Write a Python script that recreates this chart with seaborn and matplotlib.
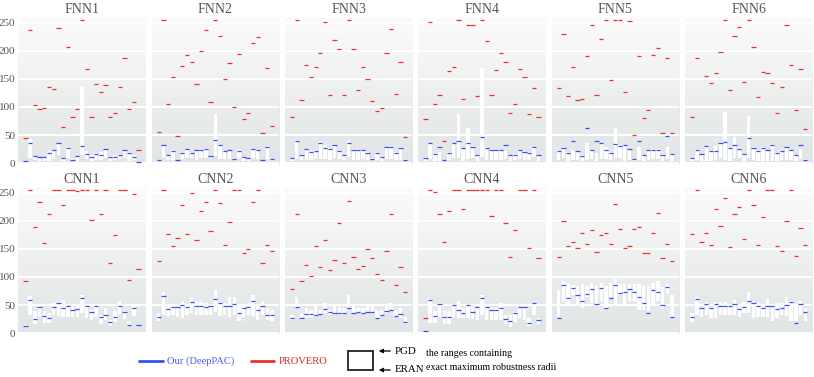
import numpy as np
import pandas as pd
import matplotlib
matplotlib.use("Agg")
import matplotlib.pyplot as plt
import seaborn as sns
from matplotlib.colors import LinearSegmentedColormap
from matplotlib.patches import Rectangle, FancyArrowPatch
from matplotlib.lines import Line2D

sns.set_style("white")
plt.rcParams["font.family"] = ["Liberation Serif", "DejaVu Serif"]

nan = np.nan

#%% data: per network, 25 cases
# PROVERO estimate, DeepPAC estimate, ERAN (lower) and PGD (upper) bounds
fnn1_provero = [45, 237, 104, 96, 99, 136, 132, 241, 64, 206, 82, 97, 255, 168, 82, 141, 126, 139, 82, 90, 136, 187, 96, 108, 23]
fnn1_deeppac = [4, 36, 12, 11, 11, 18, 24, 36, 9, 27, 5, 12, 30, 16, 11, 16, 14, 25, 11, 11, 14, 23, 18, 11, 2]
fnn1_eran = [0, 9, 5, 4, 4, 4, 8, 15, 3, 9, 3, 4, 14, 8, 3, 5, 5, 9, 4, 5, 8, 9, 4, 5, 0]
fnn1_pgd = [4, 43, 12, 11, 11, 21, 24, 36, 9, 28, 9, 12, 135, 21, 14, 18, 19, 26, 12, 15, 16, 24, 19, 14, 2]

fnn2_provero = [55, 255, 106, 154, 48, 173, 192, 181, 141, 200, 237, 109, 255, 226, 150, 179, 100, 195, 79, 90, 214, 225, 53, 170, 67]
fnn2_deeppac = [5, 32, 14, 21, 5, 18, 25, 18, 23, 24, 26, 12, 41, 32, 21, 23, 8, 21, 11, 9, 25, 23, 5, 29, 7]
fnn2_eran = [3, 10, 5, 5, 3, 8, 9, 10, 5, 9, 9, 9, 12, 8, 7, 8, 5, 9, 3, 3, 9, 8, 3, 8, 3]
fnn2_pgd = [5, 33, 14, 23, 5, 20, 26, 20, 24, 26, 27, 13, 87, 33, 22, 23, 10, 25, 11, 10, 26, 24, 6, 30, 8]

fnn3_provero = [82, 255, 112, 174, 153, 171, 196, 252, 121, 220, 203, 122, 255, 204, 131, 172, 149, 111, 93, 98, 196, 239, 124, 180, 46]
fnn3_deeppac = [9, 39, 15, 25, 20, 21, 36, 27, 25, 32, 21, 14, 35, 24, 24, 23, 18, 8, 18, 11, 28, 28, 18, 27, 5]
fnn3_eran = [3, 8, 5, 6, 5, 7, 8, 8, 5, 9, 8, 5, 11, 5, 5, 8, 5, 5, 5, 3, 8, 8, 5, 5, 3]
fnn3_pgd = [9, 41, 17, 26, 22, 23, 39, 32, 27, 33, 23, 15, 42, 26, 26, 24, 19, 10, 19, 12, 29, 30, 19, 29, 8]

fnn4_provero = [79, 252, 105, 121, 39, 164, 171, 255, 114, 246, 246, 120, 255, 218, 121, 166, 197, 180, 89, 106, 168, 154, 87, 134, 83]
fnn4_deeppac = [10, 35, 16, 29, 5, 18, 36, 39, 27, 36, 29, 14, 46, 27, 24, 23, 23, 33, 14, 15, 23, 20, 18, 29, 14]
fnn4_eran = [3, 8, 3, 3, 3, 5, 9, 9, 3, 8, 9, 3, 11, 5, 5, 5, 5, 8, 3, 5, 8, 5, 5, 11, 3]
fnn4_pgd = [11, 36, 18, 20, 5, 19, 36, 88, 27, 63, 30, 15, 170, 28, 26, 24, 24, 21, 15, 16, 24, 21, 20, 29, 15]

fnn5_provero = [134, 230, 120, 171, 112, 114, 190, 246, 121, 221, 255, 148, 255, 255, 127, 253, 50, 190, 80, 95, 193, 205, 54, 187, 54]
fnn5_deeppac = [21, 27, 18, 40, 21, 12, 62, 23, 39, 35, 23, 18, 34, 30, 32, 25, 7, 39, 14, 23, 24, 23, 14, 48, 16]
fnn5_eran = [5, 9, 3, 6, 5, 3, 5, 7, 3, 8, 8, 5, 10, 9, 3, 5, 3, 5, 3, 5, 7, 7, 3, 7, 3]
fnn5_pgd = [23, 28, 19, 24, 22, 14, 36, 24, 18, 36, 28, 19, 62, 33, 33, 26, 8, 29, 15, 24, 26, 25, 16, 29, 17]

fnn6_provero = [82, 187, nan, 156, 142, 161, 198, 255, 131, 227, 243, 145, 255, 206, 118, 162, 160, 143, 89, 136, 246, 174, 95, 168, 60]
fnn6_deeppac = [9, 24, 16, 30, 21, 21, 35, 37, 27, 32, 25, 16, 45, 27, 21, 27, 23, 33, 18, 21, 28, 23, 14, 33, 5]
fnn6_eran = [3, 5, 3, 3, 3, 5, 9, 5, 3, 9, 9, 3, 9, 5, 3, 3, 3, 3, 3, 5, 5, 5, 3, 8, 3]
fnn6_pgd = [10, 26, 17, 31, 23, 31, 36, 91, 28, 46, 27, 17, 84, 28, 23, 28, 24, 34, 19, 23, 29, 24, 15, 25, 7]

cnn1_provero = [92, 255, 189, 234, 160, 212, 255, 255, 228, 255, 255, 253, 255, 255, 201, 255, 212, 255, 124, 174, 255, 255, 95, 248, 114]
cnn1_deeppac = [12, 59, 25, 46, 30, 27, 46, 54, 45, 48, 41, 43, 62, 48, 37, 49, 29, 32, 20, 29, 49, 37, 15, 45, 15]
cnn1_eran = [11, 32, 16, 30, 18, 18, 32, 31, 28, 29, 29, 28, 36, 26, 24, 28, 17, 24, 12, 20, 34, 25, 12, 31, 12]
cnn1_pgd = [14, 66, 40, 48, 39, 36, 53, 56, 59, 50, 48, 52, 68, 49, 41, 52, 32, 44, 24, 39, 57, 39, 21, 52, 15]

cnn2_provero = [129, 255, 176, 155, 170, 228, 177, 250, 165, 217, 233, 181, 255, 232, 157, 197, 255, 255, 143, 150, 233, 255, 124, 157, 147]
cnn2_deeppac = [29, 66, 43, 46, 46, 50, 46, 55, 49, 49, 46, 48, 61, 54, 49, 49, 51, 35, 45, 46, 58, 42, 48, 33, 33]
cnn2_eran = [21, 33, 30, 32, 29, 27, 33, 35, 33, 32, 32, 32, 38, 31, 32, 29, 32, 22, 29, 32, 31, 24, 32, 23, 22]
cnn2_pgd = [36, 74, 50, 52, 52, 56, 48, 64, 57, 56, 54, 49, 77, 56, 54, 65, 64, 49, 52, 54, 67, 49, 55, 43, 42]

cnn3_provero = [79, 212, 93, 121, 101, 156, 117, 166, 113, 130, 196, 124, 236, 136, 114, 120, 149, 133, 106, 95, 147, 212, 86, 118, 73]
cnn3_deeppac = [27, 46, 26, 34, 34, 32, 34, 43, 37, 35, 36, 36, 44, 36, 37, 36, 38, 37, 27, 33, 40, 41, 30, 34, 20]
cnn3_eran = [24, 45, 24, 27, 29, 33, 33, 36, 33, 32, 33, 35, 46, 36, 35, 36, 37, 37, 27, 31, 35, 39, 30, 27, 16]
cnn3_pgd = [32, 64, 36, 45, 42, 52, 42, 54, 42, 48, 47, 45, 68, 52, 45, 45, 52, 48, 40, 41, 49, 54, 41, 44, 29]

cnn4_provero = [27, 255, 251, 212, 162, 218, 255, 255, 221, 255, 255, 255, 255, 255, 209, 255, 255, 196, 136, 183, 255, 255, 152, 255, 133]
cnn4_deeppac = [4, 59, 30, 52, 29, 29, 50, 41, 35, 50, 37, 46, 62, 46, 41, 41, 45, 25, 21, 36, 46, 46, 18, 54, 23]
cnn4_eran = [2, 18, 18, 29, 16, 17, 29, 27, 26, 26, 25, 23, 33, 23, 24, 24, 23, 16, 11, 20, 27, 24, 12, 32, 17]
cnn4_pgd = [4, 60, 39, 54, 39, 39, 51, 58, 45, 49, 46, 47, 68, 49, 45, 45, 54, 33, 32, 38, 48, 48, 26, 54, 27]

cnn5_provero = [135, 200, 155, 162, 151, 178, 158, 183, 145, 174, 178, 158, 230, 186, 152, 155, 185, 189, 143, 142, 178, 214, 134, 159, 128]
cnn5_deeppac = [27, 86, 62, 80, 67, 58, 69, 78, 52, 80, 45, 62, 86, 71, 74, 78, 73, 64, 53, 36, 77, 74, 50, 82, 28]
cnn5_eran = [28, 58, 48, 68, 50, 45, 65, 54, 52, 57, 45, 65, 52, 67, 51, 57, 57, 42, 42, 39, 48, 57, 43, 70, 27]
cnn5_pgd = [77, 93, 90, 86, 84, 88, 83, 89, 83, 89, 84, 89, 96, 88, 88, 88, 88, 88, 84, 84, 90, 92, 82, 87, 68]

cnn6_provero = [176, 255, 162, 178, 157, 221, 190, 240, 154, 212, 224, 168, 255, 228, 157, 206, 255, 255, 155, 146, 199, 255, 137, 188, 157]
cnn6_deeppac = [29, 60, 44, 52, 44, 52, 49, 49, 49, 52, 43, 47, 58, 54, 48, 44, 49, 49, 43, 45, 50, 56, 18, 52, 37]
cnn6_eran = [20, 33, 29, 33, 26, 27, 32, 33, 32, 32, 28, 35, 35, 27, 29, 29, 29, 21, 27, 32, 30, 21, 21, 33, 21]
cnn6_pgd = [36, 65, 47, 55, 47, 56, 56, 55, 51, 59, 48, 55, 73, 57, 54, 52, 61, 52, 54, 54, 65, 57, 48, 57, 43]

panel_titles = ["FNN1", "FNN2", "FNN3", "FNN4", "FNN5", "FNN6",
                "CNN1", "CNN2", "CNN3", "CNN4", "CNN5", "CNN6"]
y_ticks = [0, 50, 100, 150, 200, 250]

panel_data = {
    "FNN1": (fnn1_provero, fnn1_deeppac, fnn1_eran, fnn1_pgd),
    "FNN2": (fnn2_provero, fnn2_deeppac, fnn2_eran, fnn2_pgd),
    "FNN3": (fnn3_provero, fnn3_deeppac, fnn3_eran, fnn3_pgd),
    "FNN4": (fnn4_provero, fnn4_deeppac, fnn4_eran, fnn4_pgd),
    "FNN5": (fnn5_provero, fnn5_deeppac, fnn5_eran, fnn5_pgd),
    "FNN6": (fnn6_provero, fnn6_deeppac, fnn6_eran, fnn6_pgd),
    "CNN1": (cnn1_provero, cnn1_deeppac, cnn1_eran, cnn1_pgd),
    "CNN2": (cnn2_provero, cnn2_deeppac, cnn2_eran, cnn2_pgd),
    "CNN3": (cnn3_provero, cnn3_deeppac, cnn3_eran, cnn3_pgd),
    "CNN4": (cnn4_provero, cnn4_deeppac, cnn4_eran, cnn4_pgd),
    "CNN5": (cnn5_provero, cnn5_deeppac, cnn5_eran, cnn5_pgd),
    "CNN6": (cnn6_provero, cnn6_deeppac, cnn6_eran, cnn6_pgd),
}

# long table
rows = []
for name, (prov, dpac, eran, pgd) in panel_data.items():
    for i in range(len(prov)):
        rows.append({"net": name, "case": i, "provero": prov[i], "deeppac": dpac[i],
                     "eran": eran[i], "pgd": pgd[i]})
df = pd.DataFrame(rows)

#%% style
blue = "#3552f0"
red = "#ec2f2f"
bg_cmap = LinearSegmentedColormap.from_list("bg", ["#e1e5e5", "#eeefef", "#fbfbfb"])
grad = np.linspace(0, 1, 256).reshape(-1, 1)
x_lim = (-1.5, 25.5)
y_lim = (-1, 258)
half_w = 0.45

fig, axes = plt.subplots(2, 6, figsize=(8.14, 3.77), dpi=100, sharey=True)
fig.subplots_adjust(left=0.0225, right=0.998, top=0.9515, bottom=0.115,
                    wspace=0.047, hspace=0.169)

for ax, title in zip(axes.flatten(), panel_titles):
    sub = df[df["net"] == title]
    ax.imshow(grad, cmap=bg_cmap, aspect="auto", origin="lower",
              extent=(x_lim[0], x_lim[1], y_lim[0], y_lim[1]), zorder=0)
    ax.bar(sub["case"], sub["pgd"] - sub["eran"], bottom=sub["eran"],
           width=0.72, color="white", edgecolor="none", zorder=2)
    ax.hlines(sub["deeppac"], sub["case"] - half_w, sub["case"] + half_w,
              color=blue, lw=0.9, zorder=3)
    ax.hlines(sub["provero"], sub["case"] - half_w, sub["case"] + half_w,
              color=red, lw=0.9, zorder=3)
    ax.set_xlim(x_lim)
    ax.set_ylim(y_lim)
    ax.set_yticks(y_ticks)
    ax.set_xticks([])
    ax.yaxis.grid(True, color="white", lw=1.4)
    ax.set_axisbelow(True)
    for s in ax.spines.values():
        s.set_visible(False)
    ax.tick_params(axis="y", length=0, pad=2, labelsize=8, labelcolor="#555555")
    ax.set_title(title, fontsize=10, color="#555555", pad=4)

#%% legend drawn by hand
def fx(px):
    return px / 814


def fy(py):
    return 1 - py / 377


fig.add_artist(Line2D([fx(139), fx(163)], [fy(361), fy(361)], color=blue, lw=2))
fig.text(fx(167), fy(361), "Our (DeepPAC)", color="#4a66ea", fontsize=7.6, va="center")
fig.add_artist(Line2D([fx(251), fx(274)], [fy(361), fy(361)], color=red, lw=2))
fig.text(fx(279), fy(361), "PROVERO", color="#e02a2a", fontsize=7.6, va="center")
fig.add_artist(Rectangle((fx(348), fy(370)), fx(373) - fx(348), fy(351) - fy(370),
                         fill=False, edgecolor="#222222", lw=1.3))
for py, label in [(351, "PGD"), (370, "ERAN")]:
    fig.add_artist(FancyArrowPatch(
        (fx(393), fy(py)), (fx(376), fy(py)), arrowstyle="-|>", mutation_scale=6,
        color="black", lw=0.9))
    fig.text(fx(395), fy(py), label, fontsize=7.8, va="center", color="black")
fig.text(fx(426), fy(353), "the ranges containing", fontsize=7.2, va="center", color="black")
fig.text(fx(426), fy(368), "exact maximum robustness radii", fontsize=7.2, va="center", color="black")

fig.savefig("out.png", dpi=100)
